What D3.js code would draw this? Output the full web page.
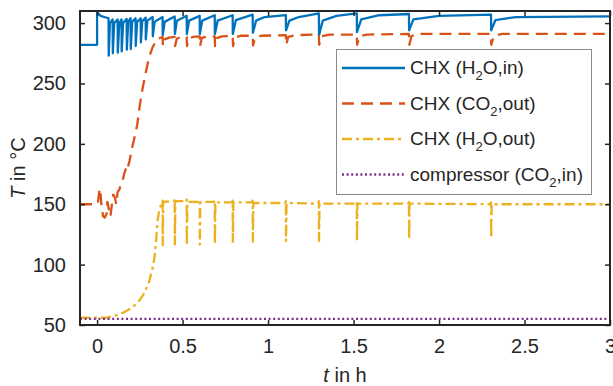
<!DOCTYPE html>
<html>
<head>
  <style>
    body { margin: 0; padding: 0; background: #fff; }
    svg text { font-family: Arial, "Liberation Sans", sans-serif; fill: #262626; }
  </style>
</head>
<body>
  <div id="chart"></div>
  <script src="https://d3js.org/d3.v7.min.js"></script>
  <script>
    // values: [t in h, T in °C]
    const tickX = [0, 0.5, 1, 1.5, 2, 2.5, 3];
    const tickY = [50, 100, 150, 200, 250, 300];

    const h2oIn = [
      [-0.1, 282], [0.0, 282], [0.0, 309], [0.02, 306], [0.067, 304],
      [0.068, 273], [0.075, 300], [0.091, 303], [0.092, 275], [0.10, 300],
      [0.12, 303], [0.121, 275.5], [0.13, 300], [0.143, 303], [0.144, 276.5],
      [0.152, 300], [0.173, 303.5], [0.174, 278], [0.182, 301], [0.196, 304],
      [0.197, 278.5], [0.205, 301], [0.225, 304], [0.226, 281], [0.234, 301],
      [0.255, 304], [0.256, 284], [0.264, 301.5], [0.284, 304.5], [0.285, 286.5],
      [0.294, 302], [0.325, 305], [0.326, 289], [0.336, 301], [0.383, 305],
      [0.384, 290], [0.395, 301], [0.454, 305.5], [0.455, 291], [0.467, 302],
      [0.524, 306], [0.525, 291], [0.538, 302], [0.600, 306], [0.601, 291],
      [0.615, 302], [0.688, 306.5], [0.689, 291], [0.705, 302], [0.793, 306.5],
      [0.794, 291], [0.812, 302.5], [0.91, 307], [0.911, 292], [0.93, 302],
      [0.98, 305], [1.104, 306.6], [1.105, 294], [1.125, 302], [1.18, 305],
      [1.297, 308], [1.298, 290], [1.32, 302], [1.40, 306], [1.519, 308],
      [1.52, 292.5], [1.545, 303], [1.65, 306.5], [1.824, 307.5], [1.825, 294],
      [1.85, 303], [2.0, 306], [2.304, 307], [2.305, 294], [2.33, 302.5],
      [2.45, 305], [3.0, 305.5]
    ];

    const co2Out = [
      [-0.1, 150], [0.0, 150], [0.005, 151], [0.012, 160], [0.018, 163],
      [0.025, 150], [0.035, 140], [0.045, 139], [0.055, 142], [0.06, 152],
      [0.07, 145], [0.078, 140], [0.085, 148], [0.095, 158], [0.105, 155],
      [0.112, 150], [0.12, 160], [0.13, 162], [0.14, 167], [0.15, 170],
      [0.16, 176], [0.17, 180], [0.175, 178], [0.19, 186], [0.205, 197],
      [0.22, 206], [0.235, 216], [0.25, 232], [0.265, 245], [0.28, 256],
      [0.295, 266], [0.31, 274], [0.325, 280], [0.34, 284], [0.355, 287],
      [0.383, 288.5], [0.385, 281], [0.395, 286.5], [0.42, 288], [0.454, 288.5],
      [0.456, 281], [0.466, 287], [0.49, 288.5], [0.524, 288.5], [0.526, 281],
      [0.536, 287], [0.56, 288.5], [0.600, 289], [0.602, 281], [0.612, 287.5],
      [0.64, 289], [0.688, 289], [0.690, 281], [0.70, 287.5], [0.73, 289],
      [0.793, 289.5], [0.795, 281], [0.806, 288], [0.84, 289.5], [0.91, 289.5],
      [0.912, 281.5], [0.924, 288], [0.96, 289.5], [1.104, 290], [1.106, 282],
      [1.118, 288.5], [1.16, 290], [1.297, 290.5], [1.299, 282], [1.312, 289],
      [1.36, 290.5], [1.519, 290.5], [1.521, 282], [1.534, 289], [1.58, 290.5],
      [1.824, 291], [1.826, 282], [1.84, 289.5], [1.89, 291], [2.304, 291],
      [2.306, 282], [2.32, 289.5], [2.37, 291], [3.0, 291]
    ];

    const h2oOut = [
      [-0.1, 56], [0.05, 56], [0.1, 57.5], [0.15, 60], [0.2, 64],
      [0.24, 69], [0.27, 75], [0.3, 84], [0.32, 94], [0.335, 105],
      [0.345, 120], [0.355, 138], [0.365, 146], [0.375, 150], [0.383, 153],
      [0.384, 116], [0.387, 152], [0.45, 152.5], [0.454, 154], [0.455, 116],
      [0.458, 152.5], [0.52, 152.5], [0.524, 154], [0.525, 116], [0.528, 152],
      [0.596, 152], [0.600, 153.5], [0.601, 116.5], [0.604, 152], [0.684, 152],
      [0.688, 153.5], [0.689, 117], [0.692, 151.5], [0.789, 151.5], [0.793, 153],
      [0.794, 118], [0.797, 151.5], [0.906, 151.5], [0.91, 153], [0.911, 119],
      [0.914, 151], [1.1, 151], [1.104, 152.5], [1.105, 119.5], [1.108, 151],
      [1.293, 150.5], [1.297, 152.5], [1.298, 119.5], [1.301, 150.5], [1.515, 150.5],
      [1.519, 152], [1.52, 119.5], [1.523, 150.5], [1.82, 150.5], [1.824, 152],
      [1.825, 121], [1.828, 150.5], [2.3, 150], [2.304, 151.5], [2.305, 122],
      [2.308, 150], [3.0, 150]
    ];

    const compIn = [[-0.1, 55], [3.0, 55]];

    const seriesNames = ["CHX (H|2|O,in)", "CHX (CO|2|,out)", "CHX (H|2|O,out)", "compressor (CO|2|,in)"];
    const seriesData = [h2oIn, co2Out, h2oOut, compIn];
    const colors = ["#0072BD", "#D95319", "#EDB120", "#7E2F8E"];
    const dashes = [null, "12,7", "10,4,3,4", "2,2.6"];

    const W = 613, H = 386;
    const mLeft = 80, mRight = 610, mTop = 11, mBottom = 325;

    const svg = d3.select("#chart").append("svg")
      .attr("width", W).attr("height", H);

    const x = d3.scaleLinear().domain([-0.1, 3]).range([mLeft, mRight]);
    const y = d3.scaleLinear().domain([50, 310]).range([mBottom, mTop]);

    svg.append("clipPath").attr("id", "clip")
      .append("rect")
      .attr("x", mLeft).attr("y", mTop)
      .attr("width", mRight - mLeft).attr("height", mBottom - mTop);

    const line = d3.line().x(d => x(d[0])).y(d => y(d[1]));

    const plot = svg.append("g").attr("clip-path", "url(#clip)");
    seriesData.forEach((s, i) => {
      plot.append("path")
        .datum(s)
        .attr("d", line)
        .attr("fill", "none")
        .attr("stroke", colors[i])
        .attr("stroke-width", 2.3)
        .attr("stroke-dasharray", dashes[i])
        .attr("stroke-linejoin", "round");
    });

    // axes, ticks pointing inward (box on)
    svg.append("g")
      .attr("transform", `translate(0,${mBottom})`)
      .call(d3.axisBottom(x).tickValues(tickX).tickSizeInner(-5).tickSizeOuter(0).tickPadding(14).tickFormat(d3.format("")));
    svg.append("g")
      .attr("transform", `translate(${mLeft},0)`)
      .call(d3.axisLeft(y).tickValues(tickY).tickSizeInner(-5).tickSizeOuter(0).tickPadding(14));
    svg.append("g")
      .attr("transform", `translate(0,${mTop})`)
      .call(d3.axisTop(x).tickValues(tickX).tickSizeInner(-5).tickSizeOuter(0).tickFormat(""));
    svg.append("g")
      .attr("transform", `translate(${mRight},0)`)
      .call(d3.axisRight(y).tickValues(tickY).tickSizeInner(-5).tickSizeOuter(0).tickFormat(""));

    svg.selectAll(".domain").remove();
    svg.selectAll(".tick line").attr("stroke", "#262626").attr("stroke-width", 1.5);
    svg.selectAll(".tick text").attr("font-size", 20).attr("fill", "#262626")
      .style("font-family", "Arial, 'Liberation Sans', sans-serif");

    svg.append("rect")
      .attr("x", mLeft).attr("y", mTop)
      .attr("width", mRight - mLeft).attr("height", mBottom - mTop)
      .attr("fill", "none").attr("stroke", "#262626").attr("stroke-width", 2);

    // axis labels
    const xl = svg.append("text")
      .attr("x", (mLeft + mRight) / 2).attr("y", 382)
      .attr("text-anchor", "middle").attr("font-size", 20);
    xl.append("tspan").attr("font-style", "italic").text("t");
    xl.append("tspan").text(" in h");

    const yl = svg.append("text")
      .attr("transform", `translate(25,${(mTop + mBottom) / 2}) rotate(-90)`)
      .attr("text-anchor", "middle").attr("font-size", 20);
    yl.append("tspan").attr("font-style", "italic").text("T");
    yl.append("tspan").text(" in °C");

    // legend
    const lg = svg.append("g");
    lg.append("rect")
      .attr("x", 336.5).attr("y", 49.5).attr("width", 255).attr("height", 145)
      .attr("fill", "#fff").attr("stroke", "#8a8a8a").attr("stroke-width", 1);

    seriesNames.forEach((name, i) => {
      const cy = 68 + i * 35.5;
      lg.append("line")
        .attr("x1", 342).attr("x2", 405).attr("y1", cy).attr("y2", cy)
        .attr("stroke", colors[i]).attr("stroke-width", 2.3)
        .attr("stroke-dasharray", dashes[i]);
      const parts = name.split("|");
      const t = lg.append("text").attr("x", 410).attr("y", cy + 6).attr("font-size", 19);
      t.append("tspan").text(parts[0]);
      t.append("tspan").attr("font-size", 13).attr("dy", 6).text(parts[1]);
      t.append("tspan").attr("dy", -6).text(parts[2]);
    });
  </script>
</body>
</html>
